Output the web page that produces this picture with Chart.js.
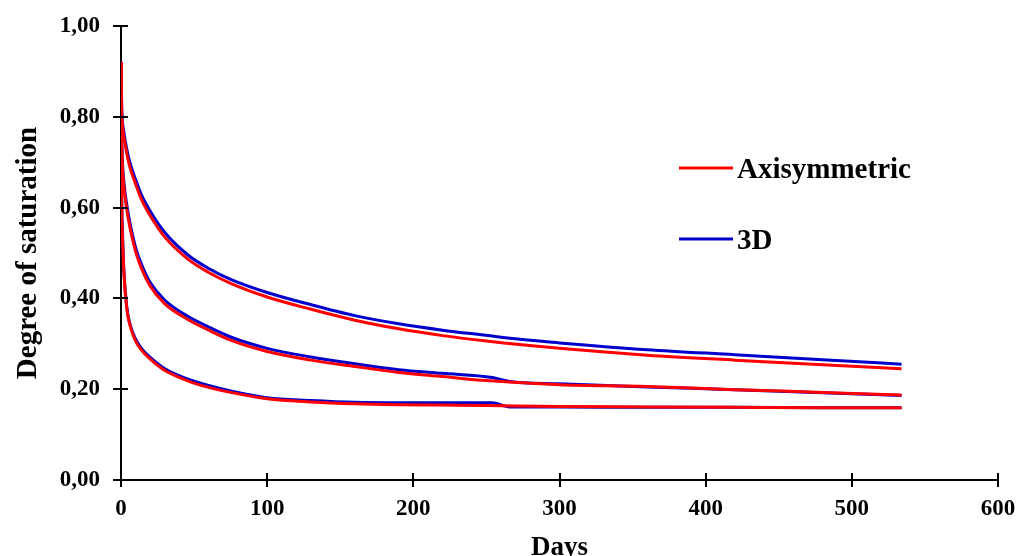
<!DOCTYPE html>
<html>
<head>
<meta charset="utf-8">
<script src="https://cdn.jsdelivr.net/npm/chart.js@4/dist/chart.umd.min.js"></script>
<style>
  html, body { margin: 0; padding: 0; background: #ffffff; }
  #wrap { width: 1019px; height: 556px; position: relative; }
</style>
</head>
<body>
<div id="wrap"><canvas id="c" width="1019" height="556"></canvas></div>
<script>
// ---- Data ----
const seriesLabels = ["Axisymmetric", "3D"];
const xTicks = [0, 100, 200, 300, 400, 500, 600];
const yTicks = [0, 0.2, 0.4, 0.6, 0.8, 1.0];
const xTickLabels = ["0", "100", "200", "300", "400", "500", "600"];
const yTickLabels = ["0,00", "0,20", "0,40", "0,60", "0,80", "1,00"];
const xTitle = "Days";
const yTitle = "Degree of saturation";

const daysAxi = [0, 0.5, 1, 2, 4, 6, 10, 14, 20, 30, 46, 60, 75, 100, 130, 160, 190, 220, 250, 300, 360, 420, 480, 534];
const axiUpper  = [0.92, 0.81, 0.78, 0.755, 0.718, 0.69, 0.652, 0.618, 0.582, 0.535, 0.486, 0.457, 0.433, 0.403, 0.376, 0.352, 0.333, 0.318, 0.306, 0.290, 0.275, 0.264, 0.254, 0.245];
const axiMiddle = [0.92, 0.75, 0.69, 0.645, 0.595, 0.558, 0.503, 0.466, 0.427, 0.388, 0.353, 0.330, 0.308, 0.283, 0.264, 0.250, 0.237, 0.228, 0.219, 0.210, 0.206, 0.199, 0.193, 0.187];
const axiLower  = [0.92, 0.61, 0.54, 0.455, 0.377, 0.342, 0.306, 0.286, 0.266, 0.241, 0.218, 0.204, 0.193, 0.179, 0.172, 0.168, 0.166, 0.165, 0.164, 0.162, 0.161, 0.160, 0.159, 0.159];

const days3D = [0, 0.5, 1, 2, 4, 6, 10, 14, 20, 30, 46, 60, 75, 100, 130, 160, 190, 220, 254, 266, 300, 360, 420, 480, 534];
const d3Upper  = [0.92, 0.82, 0.79, 0.765, 0.728, 0.70, 0.662, 0.628, 0.592, 0.545, 0.495, 0.466, 0.442, 0.413, 0.386, 0.362, 0.344, 0.330, 0.317, 0.312, 0.302, 0.287, 0.276, 0.265, 0.255];
const d3Middle = [0.92, 0.76, 0.70, 0.655, 0.605, 0.568, 0.512, 0.475, 0.435, 0.396, 0.360, 0.337, 0.315, 0.290, 0.271, 0.256, 0.243, 0.235, 0.226, 0.217, 0.212, 0.205, 0.199, 0.192, 0.186];
const d3Lower  = [0.92, 0.62, 0.55, 0.46, 0.38, 0.345, 0.31, 0.29, 0.27, 0.245, 0.222, 0.208, 0.196, 0.181, 0.175, 0.171, 0.170, 0.170, 0.170, 0.161, 0.161, 0.160, 0.160, 0.159, 0.159];

const RED = "#ff0000";
const BLUE = "#0000cc";
const FONT = "'Liberation Serif', 'Times New Roman', serif";

function pts(xs, ys) { return xs.map((x, i) => ({ x: x, y: ys[i] })); }
function ds(label, xs, ys, color) {
  return {
    label: label, data: pts(xs, ys), borderColor: color, backgroundColor: color,
    borderWidth: 3, pointRadius: 0, pointHoverRadius: 0, fill: false,
    cubicInterpolationMode: 'monotone'
  };
}

const datasets = [
  ds(seriesLabels[0], daysAxi, axiUpper, RED),
  ds(seriesLabels[0], daysAxi, axiMiddle, RED),
  ds(seriesLabels[0], daysAxi, axiLower, RED),
  ds(seriesLabels[1], days3D, d3Upper, BLUE),
  ds(seriesLabels[1], days3D, d3Middle, BLUE),
  ds(seriesLabels[1], days3D, d3Lower, BLUE)
];

const crossTicks = {
  id: 'crossTicks',
  afterDatasetsDraw(chart) {
    const ctx = chart.ctx;
    const xs = chart.scales.x, ys = chart.scales.y;
    const ax = xs.getPixelForValue(0), ay = ys.getPixelForValue(0);
    ctx.save();
    ctx.strokeStyle = '#000';
    ctx.lineWidth = 2;
    ctx.beginPath();
    yTicks.forEach(v => { const p = Math.round(ys.getPixelForValue(v)); ctx.moveTo(ax - 8, p); ctx.lineTo(ax + 7, p); });
    xTicks.forEach(v => { const p = Math.round(xs.getPixelForValue(v)); ctx.moveTo(p, ay - 7); ctx.lineTo(p, ay + 7); });
    ctx.stroke();
    ctx.restore();
  }
};

const customLegend = {
  id: 'customLegend',
  afterDraw(chart) {
    const ctx = chart.ctx;
    const items = [
      { text: seriesLabels[0], color: RED, ly: 168, ty: 178 },
      { text: seriesLabels[1], color: BLUE, ly: 239, ty: 249 }
    ];
    ctx.save();
    items.forEach(it => {
      ctx.strokeStyle = it.color; ctx.lineWidth = 3;
      ctx.beginPath(); ctx.moveTo(679, it.ly); ctx.lineTo(733, it.ly); ctx.stroke();
      ctx.fillStyle = '#000';
      ctx.font = 'bold 29px ' + FONT;
      ctx.textBaseline = 'alphabetic';
      ctx.textAlign = 'left';
      ctx.fillText(it.text, 737, it.ty);
    });
    ctx.restore();
  }
};

new Chart(document.getElementById('c'), {
  type: 'line',
  data: { datasets: datasets },
  options: {
    responsive: false,
    animation: false,
    layout: { padding: { left: 0, right: 21, top: 26, bottom: 0 } },
    plugins: { legend: { display: false }, tooltip: { enabled: false } },
    scales: {
      x: {
        type: 'linear', min: 0, max: 600,
        afterBuildTicks: s => { s.ticks = xTicks.map(v => ({ value: v })); },
        afterFit: s => { s.height = 76; s.paddingLeft = 0; s.paddingRight = 0; },
        grid: { display: false, drawTicks: false },
        border: { display: true, color: '#000', width: 2 },
        ticks: {
          padding: 15, color: '#000', maxRotation: 0, autoSkip: false,
          font: { family: FONT, size: 23, weight: 'bold' },
          callback: (v) => xTickLabels[xTicks.indexOf(v)]
        },
        title: { display: true, text: xTitle, color: '#000',
          font: { family: FONT, size: 27, weight: 'bold', lineHeight: 1 }, padding: { top: 0, bottom: -6 } }
      },
      y: {
        type: 'linear', min: 0, max: 1,
        afterBuildTicks: s => { s.ticks = yTicks.map(v => ({ value: v })); },
        afterFit: s => { s.width = 121; s.paddingTop = 0; s.paddingBottom = 0; },
        grid: { display: false, drawTicks: false },
        border: { display: true, color: '#000', width: 2 },
        ticks: {
          padding: 21, color: '#000', autoSkip: false,
          font: { family: FONT, size: 23, weight: 'bold' },
          callback: (v) => { const i = yTicks.findIndex(t => Math.abs(t - v) < 1e-9); return yTickLabels[i]; }
        },
        title: { display: true, text: yTitle, color: '#000',
          font: { family: FONT, size: 29, weight: 'bold', lineHeight: 1 }, padding: { top: 14, bottom: 0 } }
      }
    }
  },
  plugins: [crossTicks, customLegend]
});
</script>
</body>
</html>
